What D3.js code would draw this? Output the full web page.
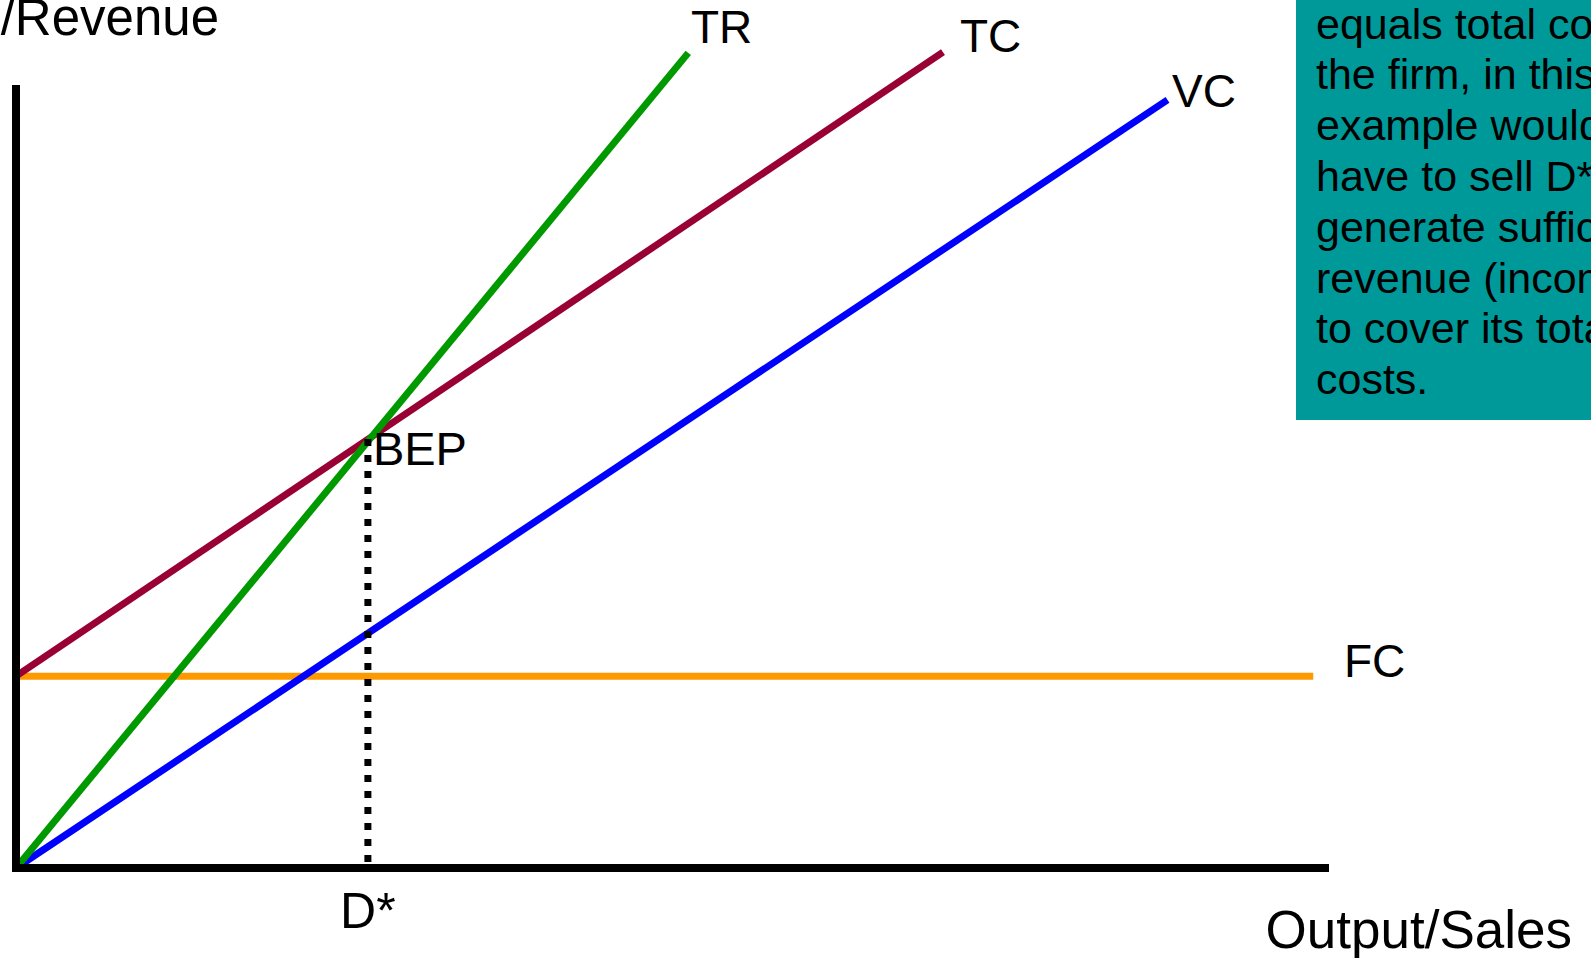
<!DOCTYPE html>
<html>
<head>
<meta charset="utf-8">
<script src="https://cdn.jsdelivr.net/npm/d3@7"></script>
<style>
  html, body { margin: 0; padding: 0; background: #fff; overflow: hidden; }
  svg { display: block; font-family: "Liberation Sans", Arial, sans-serif; }
</style>
</head>
<body>
<svg id="chart" width="1591" height="958"></svg>
<script>
// ---- data (abstract units: output 0..1000, cost/revenue 0..1000) ----
const seriesNames = ["TR", "TC", "VC", "FC"];
const seriesColors = ["#009900", "#990033", "#0000ff", "#ff9900"];
const trPoints = [[0, 0], [512, 1041]];
const tcPoints = [[0, 245], [706, 1042]];
const vcPoints = [[0, 0], [877, 981]];
const fcPoints = [[0, 245], [988, 245]];
const bepOutput = [268];
const bepValue = [548];
const axisTitles = ["Costs/Revenue", "Output/Sales"];
const bepLabels = ["BEP", "D*"];
const noteLines = [
  "equals total costs –",
  "the firm, in this",
  "example would",
  "have to sell D* to",
  "generate sufficient",
  "revenue (income)",
  "to cover its total",
  "costs."
];

const svg = d3.select("#chart");
const x = d3.scaleLinear().domain([0, 1000]).range([16, 1329]);
const y = d3.scaleLinear().domain([0, 1000]).range([868, 85]);

// note box
svg.append("rect")
  .attr("x", 1296).attr("y", -10)
  .attr("width", 320).attr("height", 430)
  .attr("fill", "#009999");
svg.append("g").selectAll("text").data(noteLines).join("text")
  .attr("x", 1316)
  .attr("y", (d, i) => 38.5 + i * 50.8)
  .attr("font-size", 43)
  .attr("fill", "#000")
  .text(d => d);

const line = d3.line().x(d => x(d[0])).y(d => y(d[1]));
const allSeries = [trPoints, tcPoints, vcPoints, fcPoints];

// series lines (FC first so others draw over it)
const order = [3, 2, 1, 0];
svg.append("g").selectAll("path").data(order).join("path")
  .attr("d", i => line(allSeries[i]))
  .attr("fill", "none")
  .attr("stroke", i => seriesColors[i])
  .attr("stroke-width", 7)
  .attr("stroke-linecap", "butt");

// dotted BEP drop line
svg.append("path")
  .attr("d", line([[bepOutput[0], bepValue[0]], [bepOutput[0], 0]]))
  .attr("fill", "none")
  .attr("stroke", "#000")
  .attr("stroke-width", 7)
  .attr("stroke-dasharray", "7,9");

// axes
svg.append("line")
  .attr("x1", x(0)).attr("x2", x(0))
  .attr("y1", y(1000)).attr("y2", y(0) + 4)
  .attr("stroke", "#000").attr("stroke-width", 8);
svg.append("line")
  .attr("x1", x(0) - 4).attr("x2", x(1000))
  .attr("y1", y(0)).attr("y2", y(0))
  .attr("stroke", "#000").attr("stroke-width", 8);

// series labels
const labelPos = [[691, 43], [960, 52], [1172, 107], [1344, 677]];
svg.append("g").selectAll("text").data(seriesNames).join("text")
  .attr("x", (d, i) => labelPos[i][0])
  .attr("y", (d, i) => labelPos[i][1])
  .attr("font-size", 46)
  .text(d => d);

// BEP and D*
svg.append("text").attr("x", x(bepOutput[0]) + 5).attr("y", 465)
  .attr("font-size", 47).text(bepLabels[0]);
svg.append("text").attr("x", x(bepOutput[0])).attr("y", 928)
  .attr("text-anchor", "middle")
  .attr("font-size", 50).text(bepLabels[1]);

// axis titles
svg.append("text").attr("x", 219).attr("y", 35)
  .attr("text-anchor", "end")
  .attr("font-size", 51).text(axisTitles[0]);
svg.append("text").attr("x", 1572).attr("y", 948)
  .attr("text-anchor", "end")
  .attr("font-size", 53).text(axisTitles[1]);
</script>
</body>
</html>
